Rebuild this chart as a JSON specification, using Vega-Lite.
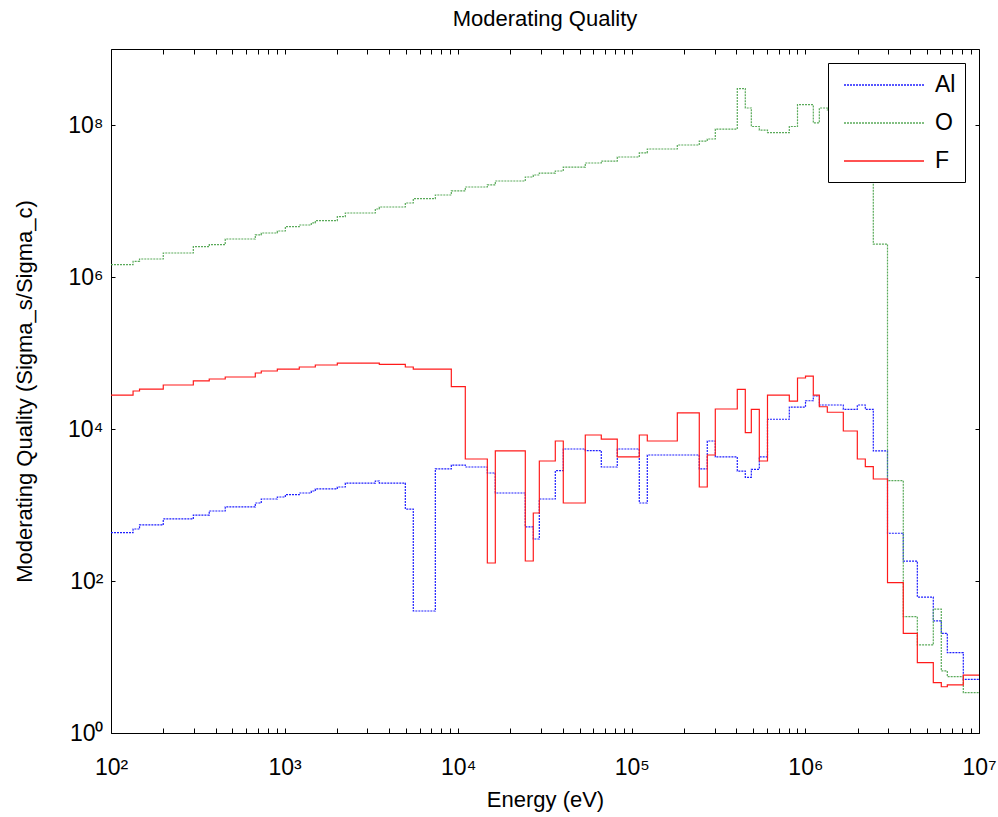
{
"$schema":"https://vega.github.io/schema/vega-lite/v6.json",
"width":868,"height":684,
"autosize":{"type":"none"},
"padding":{"left":111,"top":49,"right":19,"bottom":84},
"background":"white",
"title":{"text":"Moderating Quality","font":"Liberation Sans","fontSize":22,"fontWeight":"normal","color":"#000","offset":18},
"config":{
 "view":{"stroke":"#000","strokeWidth":1},
 "axis":{"grid":false,"domain":false,"ticks":true,"tickColor":"#000","tickWidth":1,"labelFont":"Liberation Sans","labelFontSize":23,"labelColor":"#000","titleFont":"Liberation Sans","titleFontSize":22,"titleFontWeight":"normal","titleColor":"#000","labelFlush":false,"labelOverlap":false,"labelBound":false},
 "legend":{"strokeColor":"#000","fillColor":"#fff","padding":9,"rowPadding":13,"symbolType":"M-0.5,0H6.17","symbolSize":576,"symbolStrokeWidth":1.5,"labelFont":"Liberation Sans","labelFontSize":23,"labelColor":"#000","labelOffset":72,"cornerRadius":0}
},
"datasets":{
"curves":[
{"s":"Al","E":100,"v":433},{"s":"Al","E":134,"v":483},{"s":"Al","E":146,"v":546},{"s":"Al","E":200,"v":655},{"s":"Al","E":298,"v":738},{"s":"Al","E":368,"v":834},{"s":"Al","E":455,"v":942},{"s":"Al","E":678,"v":1062},{"s":"Al","E":734,"v":1199},{"s":"Al","E":908,"v":1274},{"s":"Al","E":1010,"v":1368},{"s":"Al","E":1215,"v":1439},{"s":"Al","E":1425,"v":1528},{"s":"Al","E":1503,"v":1626},{"s":"Al","E":2012,"v":1726},{"s":"Al","E":2237,"v":1945},{"s":"Al","E":3331,"v":2070},{"s":"Al","E":3512,"v":1945},{"s":"Al","E":4959,"v":885},{"s":"Al","E":5512,"v":40.3},{"s":"Al","E":7383,"v":2979},{"s":"Al","E":9128,"v":3357},{"s":"Al","E":10987,"v":3162},{"s":"Al","E":14715,"v":2636},{"s":"Al","E":16359,"v":1439},{"s":"Al","E":24350,"v":514},{"s":"Al","E":27070,"v":357},{"s":"Al","E":29330,"v":1199},{"s":"Al","E":36250,"v":2831},{"s":"Al","E":40300,"v":5458},{"s":"Al","E":53960,"v":5188},{"s":"Al","E":66720,"v":3162},{"s":"Al","E":82480,"v":5458},{"s":"Al","E":110450,"v":1062},{"s":"Al","E":122820,"v":4550},{"s":"Al","E":182870,"v":4550},{"s":"Al","E":244760,"v":2979},{"s":"Al","E":272140,"v":6950},{"s":"Al","E":302690,"v":4285},{"s":"Al","E":405180,"v":2799},{"s":"Al","E":450560,"v":2312},{"s":"Al","E":488080,"v":2951},{"s":"Al","E":542700,"v":4285},{"s":"Al","E":604800,"v":13430},{"s":"Al","E":807900,"v":19450},{"s":"Al","E":900600,"v":19450},{"s":"Al","E":1001400,"v":23550},{"s":"Al","E":1110400,"v":27160},{"s":"Al","E":1202900,"v":20700},{"s":"Al","E":1337300,"v":20700},{"s":"Al","E":1653400,"v":18160},{"s":"Al","E":1990800,"v":20700},{"s":"Al","E":2213600,"v":18160},{"s":"Al","E":2461000,"v":5140},{"s":"Al","E":2971000,"v":425},{"s":"Al","E":3663000,"v":183},{"s":"Al","E":4413000,"v":61.5},{"s":"Al","E":5454000,"v":29.8},{"s":"Al","E":6065000,"v":20.5},{"s":"Al","E":6569000,"v":11.4},{"s":"Al","E":8120000,"v":5.08},{"s":"Al","E":10000000,"v":5.08},
{"s":"O","E":100,"v":1452000},{"s":"O","E":134,"v":1607000},{"s":"O","E":146,"v":1726000},{"s":"O","E":200,"v":2070000},{"s":"O","E":298,"v":2506000},{"s":"O","E":368,"v":2661000},{"s":"O","E":455,"v":3162000},{"s":"O","E":678,"v":3573000},{"s":"O","E":734,"v":3793000},{"s":"O","E":908,"v":4027000},{"s":"O","E":1010,"v":4592000},{"s":"O","E":1215,"v":4831000},{"s":"O","E":1425,"v":5140000},{"s":"O","E":1503,"v":5508000},{"s":"O","E":2012,"v":6223000},{"s":"O","E":2237,"v":6950000},{"s":"O","E":3331,"v":7852000},{"s":"O","E":3512,"v":8337000},{"s":"O","E":4959,"v":9419000},{"s":"O","E":5512,"v":10720000},{"s":"O","E":7383,"v":11990000},{"s":"O","E":9128,"v":13550000},{"s":"O","E":10987,"v":15280000},{"s":"O","E":14715,"v":16260000},{"s":"O","E":16359,"v":18320000},{"s":"O","E":24350,"v":20700000},{"s":"O","E":27070,"v":21980000},{"s":"O","E":29330,"v":23330000},{"s":"O","E":36250,"v":24830000},{"s":"O","E":40300,"v":27990000},{"s":"O","E":53960,"v":31620000},{"s":"O","E":66720,"v":33570000},{"s":"O","E":82480,"v":37930000},{"s":"O","E":110450,"v":42850000},{"s":"O","E":122820,"v":48310000},{"s":"O","E":182870,"v":54580000},{"s":"O","E":244760,"v":61520000},{"s":"O","E":272140,"v":65460000},{"s":"O","E":302690,"v":88510000},{"s":"O","E":405180,"v":300600000},{"s":"O","E":450560,"v":167500000},{"s":"O","E":488080,"v":95500000},{"s":"O","E":542700,"v":85700000},{"s":"O","E":604800,"v":79250000},{"s":"O","E":807900,"v":95500000},{"s":"O","E":900600,"v":184900000},{"s":"O","E":1001400,"v":184900000},{"s":"O","E":1110400,"v":106900000},{"s":"O","E":1202900,"v":167500000},{"s":"O","E":1337300,"v":158500000},{"s":"O","E":1653400,"v":141300000},{"s":"O","E":1990800,"v":125900000},{"s":"O","E":2213600,"v":112200000},{"s":"O","E":2461000,"v":2704000},{"s":"O","E":2971000,"v":2089},{"s":"O","E":3663000,"v":33.9},{"s":"O","E":4413000,"v":14.4},{"s":"O","E":5454000,"v":42.7},{"s":"O","E":6065000,"v":6.55},{"s":"O","E":6569000,"v":5.51},{"s":"O","E":8120000,"v":3.39},{"s":"O","E":10000000,"v":3.39},
{"s":"F","E":100,"v":27990},{"s":"F","E":134,"v":31620},{"s":"F","E":146,"v":33570},{"s":"F","E":200,"v":37930},{"s":"F","E":298,"v":42850},{"s":"F","E":368,"v":45500},{"s":"F","E":455,"v":48310},{"s":"F","E":678,"v":54580},{"s":"F","E":734,"v":57940},{"s":"F","E":908,"v":61520},{"s":"F","E":1010,"v":61520},{"s":"F","E":1215,"v":65460},{"s":"F","E":1425,"v":65460},{"s":"F","E":1503,"v":69500},{"s":"F","E":2012,"v":73790},{"s":"F","E":2237,"v":73790},{"s":"F","E":3331,"v":73790},{"s":"F","E":3512,"v":70960},{"s":"F","E":4959,"v":65460},{"s":"F","E":5512,"v":61520},{"s":"F","E":7383,"v":61520},{"s":"F","E":9128,"v":36140},{"s":"F","E":10987,"v":4027},{"s":"F","E":14715,"v":172.6},{"s":"F","E":16359,"v":5140},{"s":"F","E":24350,"v":183.2},{"s":"F","E":27070,"v":785},{"s":"F","E":29330,"v":3793},{"s":"F","E":36250,"v":6950},{"s":"F","E":40300,"v":1062},{"s":"F","E":53960,"v":8337},{"s":"F","E":66720,"v":7379},{"s":"F","E":82480,"v":4285},{"s":"F","E":110450,"v":8337},{"s":"F","E":122820,"v":6950},{"s":"F","E":182870,"v":16260},{"s":"F","E":244760,"v":1726},{"s":"F","E":272140,"v":4550},{"s":"F","E":302690,"v":18320},{"s":"F","E":405180,"v":33270},{"s":"F","E":450560,"v":8933},{"s":"F","E":488080,"v":18160},{"s":"F","E":542700,"v":3793},{"s":"F","E":604800,"v":27990},{"s":"F","E":807900,"v":23330},{"s":"F","E":900600,"v":46880},{"s":"F","E":1001400,"v":49770},{"s":"F","E":1110400,"v":27990},{"s":"F","E":1202900,"v":19630},{"s":"F","E":1337300,"v":16600},{"s":"F","E":1653400,"v":9419},{"s":"F","E":1990800,"v":4027},{"s":"F","E":2213600,"v":3192},{"s":"F","E":2461000,"v":2198},{"s":"F","E":2971000,"v":95.1},{"s":"F","E":3663000,"v":20.5},{"s":"F","E":4413000,"v":8.41},{"s":"F","E":5454000,"v":4.59},{"s":"F","E":6065000,"v":4.06},{"s":"F","E":6569000,"v":4.29},{"s":"F","E":8120000,"v":5.79},{"s":"F","E":10000000,"v":5.79}
],
"frame":[{"E":100,"v":1}]
},
"layer":[
{
 "data":{"name":"curves"},
 "mark":{"type":"line","interpolate":"step-after","strokeWidth":1.2},
 "encoding":{
  "x":{"field":"E","type":"quantitative","scale":{"type":"log","domain":[100,10000000],"nice":false},
   "axis":{"orient":"bottom","title":"Energy  (eV)","tickSize":-5,"labelPadding":28,"titlePadding":10,
    "values":[100,200,300,400,500,600,700,800,900,1000,2000,3000,4000,5000,6000,7000,8000,9000,10000,20000,30000,40000,50000,60000,70000,80000,90000,100000,200000,300000,400000,500000,600000,700000,800000,900000,1000000,2000000,3000000,4000000,5000000,6000000,7000000,8000000,9000000,10000000],
    "labelExpr":"datum.value == 100 ? '10²' : datum.value == 1000 ? '10³' : datum.value == 10000 ? '10⁴' : datum.value == 100000 ? '10⁵' : datum.value == 1000000 ? '10⁶' : datum.value == 10000000 ? '10⁷' : ''"}},
  "y":{"field":"v","type":"quantitative","scale":{"type":"log","domain":[1,1000000000],"nice":false},
   "axis":{"orient":"left","title":"Moderating Quality  (Sigma_s/Sigma_c)","tickSize":-4,"labelPadding":12,"titlePadding":31,
    "values":[1,100,10000,1000000,100000000],
    "labelExpr":"datum.value == 1 ? '10⁰' : datum.value == 100 ? '10²' : datum.value == 10000 ? '10⁴' : datum.value == 1000000 ? '10⁶' : '10⁸'"}},
  "color":{"field":"s","type":"nominal","scale":{"domain":["Al","O","F"],"range":["#1f1fff","#5aaa5a","#ff1a1a"]},
   "legend":{"title":null,"orient":"none","legendX":717,"legendY":14}},
  "strokeDash":{"field":"s","type":"nominal","scale":{"domain":["Al","O","F"],"range":[[2,1],[2,1],[1,0]]},
   "legend":{"title":null,"orient":"none","legendX":717,"legendY":14}}
 }
},
{
 "data":{"name":"frame"},
 "mark":{"type":"point","opacity":0},
 "encoding":{
  "x":{"field":"E","type":"quantitative","scale":{"type":"log","domain":[100,10000000],"nice":false},
   "axis":{"orient":"top","title":null,"labels":false,"tickSize":-5,
    "values":[100,200,300,400,500,600,700,800,900,1000,2000,3000,4000,5000,6000,7000,8000,9000,10000,20000,30000,40000,50000,60000,70000,80000,90000,100000,200000,300000,400000,500000,600000,700000,800000,900000,1000000,2000000,3000000,4000000,5000000,6000000,7000000,8000000,9000000,10000000]}},
  "y":{"field":"v","type":"quantitative","scale":{"type":"log","domain":[1,1000000000],"nice":false},
   "axis":{"orient":"right","title":null,"labels":false,"tickSize":-4,"values":[1,100,10000,1000000,100000000]}}
 }
}
],
"resolve":{"axis":{"x":"independent","y":"independent"}}
}
